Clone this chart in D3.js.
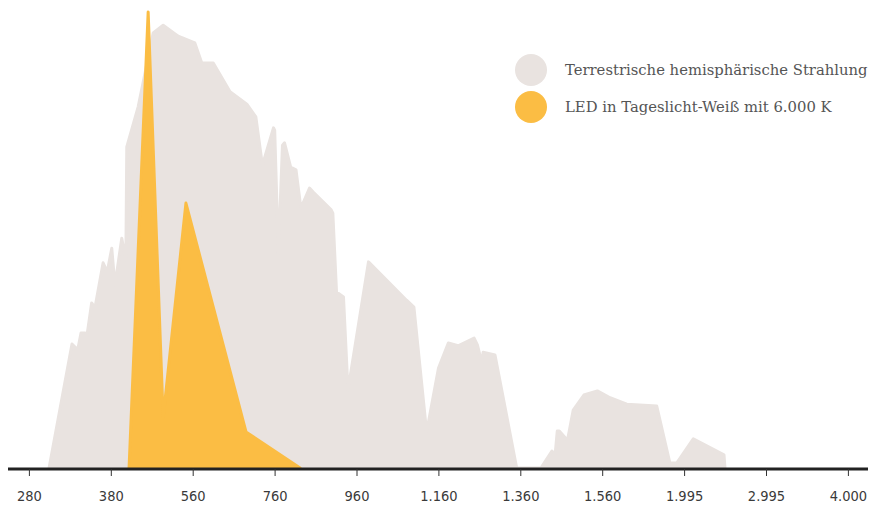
<!DOCTYPE html>
<html>
<head>
<meta charset="utf-8">
<script src="https://cdn.jsdelivr.net/npm/d3@7/dist/d3.min.js"></script>
<style>
	html, body { margin: 0; padding: 0; background: #fff; }
	svg { display: block; }
	.tick-label { font-family: 'DejaVu Sans Condensed', 'DejaVu Sans', sans-serif; font-stretch: condensed; font-size: 14.5px; fill: #3a3a3a; }
	.legend-label { font-family: 'DejaVu Serif', 'Liberation Serif', serif; font-size: 14.8px; fill: #555; }
</style>
</head>
<body>
<div id="chart"></div>
<script>
// axis ticks (wavelength, nm) - piecewise, equally spaced on screen
const tickValues = [280, 380, 560, 760, 960, 1160, 1360, 1560, 1995, 2995, 4000]
const tickLabels = ['280', '380', '560', '760', '960', '1.160', '1.360', '1.560', '1.995', '2.995', '4.000']

// solar spectrum (terrestrial, hemispherical) - relative units
const sunWavelength = [304, 332, 339, 343, 348, 350, 356, 360, 370, 375, 381, 388, 403, 412, 414, 439, 472, 494, 527, 564, 581, 609, 650, 691, 713, 729, 756, 759, 768, 778, 783, 798, 811, 823, 844, 853, 897, 901, 910, 927, 938, 988, 1081, 1099, 1130, 1159, 1183, 1207, 1246, 1254, 1265, 1268, 1297, 1350, 1409, 1436, 1444, 1449, 1454, 1474, 1488, 1514, 1547, 1599, 1688, 1847, 1917, 1953, 2101, 2476, 2488]
const sunValue = [0, 27.2, 25.9, 29.6, 29.6, 28.7, 36.2, 35.1, 45, 43, 48.2, 40.1, 50.4, 45.6, 70.4, 79.2, 95.4, 97.1, 94.7, 93.2, 88.8, 88.8, 82.5, 79.8, 77, 66.4, 74.6, 74.1, 47, 70.8, 71.3, 66, 65.4, 57, 61.4, 60.5, 56.6, 55.9, 38.6, 37.5, 17.1, 45.2, 36.8, 35.3, 7.9, 21.9, 27.4, 26.8, 28.5, 27, 23, 25.4, 24.8, 0, 0, 3.7, 3.1, 8.1, 8.1, 6.1, 12.7, 16, 16.9, 15.4, 14, 13.6, 1.1, 1.1, 6.4, 2.9, 0]

// LED daylight white 6000 K - relative units
const ledWavelength = [419, 461, 494, 544, 689, 821]
const ledValue = [0, 100, 11, 58.1, 7.9, 0]

const legendItems = ['Terrestrische hemisphärische Strahlung', 'LED in Tageslicht-Weiß mit 6.000 K']
const colors = ['#e9e3e0', '#fbbd44']

const width = 870
const height = 506
const margin = { top: 12, right: 21.6, bottom: 38, left: 29.4 }
const innerW = width - margin.left - margin.right
const step = innerW / (tickValues.length - 1)

const x = d3.scaleLinear()
	.domain(tickValues)
	.range(tickValues.map((d, i) => margin.left + i * step))
const y = d3.scaleLinear()
	.domain([0, 100])
	.range([height - margin.bottom, margin.top])

const svg = d3.select('#chart')
	.append('svg')
	.attr('width', width)
	.attr('height', height)

const area = d3.area()
	.x(d => x(d[0]))
	.y0(y(0))
	.y1(d => y(d[1]))

const series = [
	d3.zip(sunWavelength, sunValue),
	d3.zip(ledWavelength, ledValue),
]

svg.selectAll('.spectrum')
	.data(series)
	.enter()
	.append('path')
	.attr('class', 'spectrum')
	.attr('d', d => area(d))
	.attr('fill', (d, i) => colors[i])
	.attr('stroke', (d, i) => colors[i])
	.attr('stroke-width', 3)
	.attr('stroke-linejoin', 'round')

// x axis
const axisY = y(0) + 1
svg.append('line')
	.attr('x1', 8)
	.attr('x2', width - 2)
	.attr('y1', axisY)
	.attr('y2', axisY)
	.attr('stroke', '#222')
	.attr('stroke-width', 3)

const ticks = svg.selectAll('.tick')
	.data(tickValues)
	.enter()
	.append('g')
	.attr('class', 'tick')
	.attr('transform', d => `translate(${x(d)},${axisY})`)

ticks.append('line')
	.attr('y1', 0)
	.attr('y2', 7)
	.attr('stroke', '#333')
	.attr('stroke-width', 1)

ticks.append('text')
	.attr('class', 'tick-label')
	.attr('y', 32)
	.attr('text-anchor', 'middle')
	.text((d, i) => tickLabels[i])

// legend
const legend = svg.selectAll('.legend')
	.data(legendItems)
	.enter()
	.append('g')
	.attr('class', 'legend')
	.attr('transform', (d, i) => `translate(531,${70 + i * 37})`)

legend.append('circle')
	.attr('r', 16)
	.attr('fill', (d, i) => colors[i])

legend.append('text')
	.attr('class', 'legend-label')
	.attr('x', 34)
	.attr('dy', '0.35em')
	.text(d => d)
</script>
</body>
</html>
